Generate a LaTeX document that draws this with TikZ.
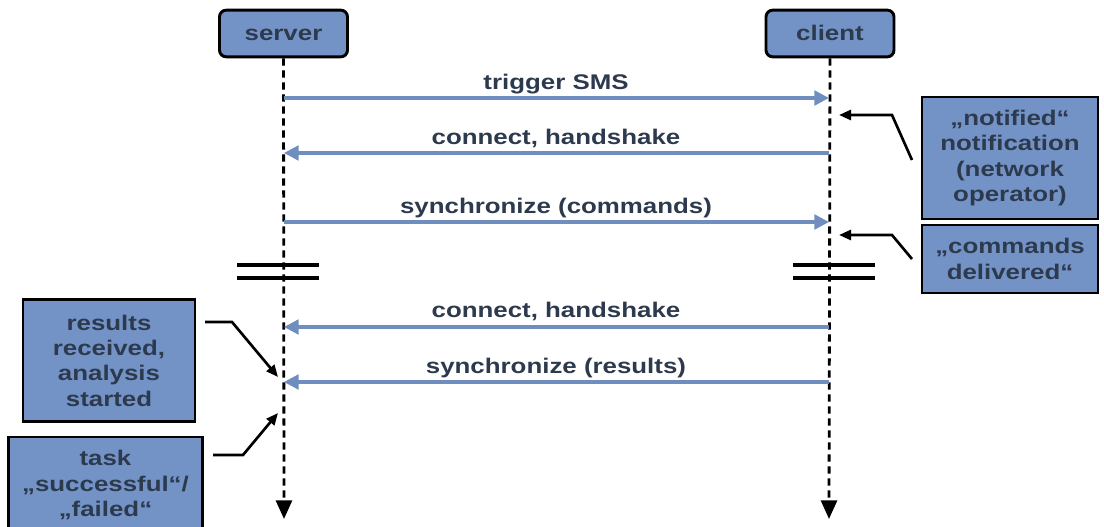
\documentclass[tikz,border=0pt]{standalone}
\usepackage{fontspec}
\setmainfont[FakeStretch=1.22]{Liberation Sans}
\usetikzlibrary{arrows.meta}
\definecolor{boxblue}{RGB}{115,147,199}
\definecolor{msgblue}{RGB}{111,141,190}
\definecolor{txt}{RGB}{45,58,78}
\tikzset{
  lab/.style={font=\bfseries\fontsize{15.9pt}{19pt}\selectfont, text=txt},
  actor/.style={lab, draw=black, line width=2.2pt, rounded corners=5pt, fill=boxblue,
    minimum width=96pt, minimum height=35pt, inner sep=0pt, text height=11.5pt, text depth=1.5pt},
  note/.style={lab, draw=black, line width=2.2pt, fill=boxblue, align=center, inner sep=0pt},
  lifeline/.style={line width=2.1pt, dash pattern=on 5.5pt off 3.5pt,
    -{Triangle[length=14pt,width=12pt]}},
  msg/.style={msgblue, line width=2.4pt, -{Triangle[length=11pt,width=11pt]}},
  mlabel/.style={lab, anchor=base},
  callout/.style={black, line width=2pt, line join=miter, -{Triangle[length=9pt,width=7.5pt]}},
  brk/.style={black, line width=3pt},
}
\begin{document}
\begin{tikzpicture}[x=0.75pt,y=-0.75pt]
\useasboundingbox (0,0) rectangle (1104,527);
% actors
\node[actor] (server) at (283.5,33.5) {server};
\node[actor] (client) at (830,33.5) {client};
% lifeline ends
\coordinate (sEnd) at (284,519);
\coordinate (cEnd) at (829,519);
\draw[lifeline] (server.south) -- (sEnd);
\draw[lifeline] (client.south) -- (cEnd);
% message points
\coordinate (s1) at (284,98);  \coordinate (c1) at (829,98);
\coordinate (s2) at (284,153); \coordinate (c2) at (829,153);
\coordinate (s3) at (284,222); \coordinate (c3) at (829,222);
\coordinate (s4) at (284,327); \coordinate (c4) at (829,327);
\coordinate (s5) at (284,382); \coordinate (c5) at (829,382);
\draw[msg] (s1) -- (c1);
\draw[msg] (c2) -- (s2);
\draw[msg] (s3) -- (c3);
\draw[msg] (c4) -- (s4);
\draw[msg] (c5) -- (s5);
\node[mlabel] (l1) at (556,90)  {trigger SMS};
\node[mlabel] (l2) at (556,145) {connect, handshake};
\node[mlabel] (l3) at (556,214) {synchronize (commands)};
\node[mlabel] (l4) at (556,318) {connect, handshake};
\node[mlabel] (l5) at (556,374) {synchronize (results)};
% breaks
\coordinate (bs1a) at (237,265); \coordinate (bs1b) at (319,265);
\coordinate (bs2a) at (237,278); \coordinate (bs2b) at (319,278);
\coordinate (bc1a) at (793,265); \coordinate (bc1b) at (875,265);
\coordinate (bc2a) at (793,278); \coordinate (bc2b) at (875,278);
\draw[brk] (bs1a) -- (bs1b);
\draw[brk] (bs2a) -- (bs2b);
\draw[brk] (bc1a) -- (bc1b);
\draw[brk] (bc2a) -- (bc2b);
% notes right
\node[note, minimum width=132pt, minimum height=91.5pt] (notified) at (1010,158)
  {„notified“\\notification\\(network\\operator)};
\node[note, minimum width=132pt, minimum height=51pt] (delivered) at (1010,259)
  {„commands\\delivered“};
% notes left
\node[note, minimum width=129pt, minimum height=92pt] (results) at (109,360.5)
  {results\\received,\\analysis\\started};
\node[note, minimum width=145pt, minimum height=72pt] (task) at (105.5,485)
  {task\\„successful“/\\„failed“};
% callouts
\coordinate (k1a) at (912,160); \coordinate (k1b) at (892,115); \coordinate (k1c) at (839,115);
\coordinate (k2a) at (912,259); \coordinate (k2b) at (892,235); \coordinate (k2c) at (839,235);
\coordinate (k3a) at (205,322); \coordinate (k3b) at (232,322); \coordinate (k3c) at (278,377);
\coordinate (k4a) at (213,455); \coordinate (k4b) at (243,455); \coordinate (k4c) at (278,413);
\draw[callout] (k1a) -- (k1b) -- (k1c);
\draw[callout] (k2a) -- (k2b) -- (k2c);
\draw[callout] (k3a) -- (k3b) -- (k3c);
\draw[callout] (k4a) -- (k4b) -- (k4c);
\end{tikzpicture}
\end{document}
